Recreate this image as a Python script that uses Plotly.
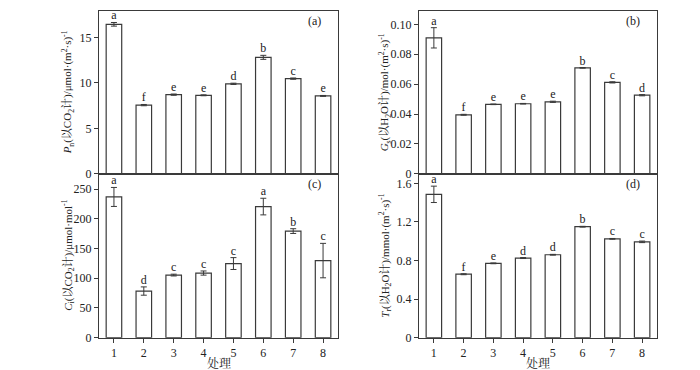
import plotly.graph_objects as go

treatments = [1, 2, 3, 4, 5, 6, 7, 8]

pn_vals = [16.43, 7.55, 8.70, 8.63, 9.89, 12.80, 10.46, 8.56]
pn_err = [0.2, 0.07, 0.07, 0.05, 0.07, 0.22, 0.07, 0.05]
pn_let = ["a", "f", "e", "e", "d", "b", "c", "e"]

gs_vals = [0.0910, 0.0395, 0.0465, 0.0469, 0.0482, 0.0709, 0.0612, 0.0526]
gs_err = [0.0068, 0.0003, 0.0002, 0.0002, 0.0004, 0.0002, 0.0004, 0.0004]
gs_let = ["a", "f", "e", "e", "e", "b", "c", "d"]

ci_vals = [237, 78.5, 105.4, 108.8, 124.8, 220.8, 179.5, 129.8]
ci_err = [16, 7, 1.5, 3.5, 10, 14, 4, 29]
ci_let = ["a", "d", "c", "c", "c", "a", "b", "c"]

tr_vals = [1.487, 0.658, 0.771, 0.826, 0.860, 1.151, 1.025, 0.994]
tr_err = [0.085, 0.005, 0.004, 0.005, 0.004, 0.004, 0.004, 0.008]
tr_let = ["a", "f", "e", "d", "d", "b", "c", "c"]

FONT = "Times New Roman, Liberation Serif, Noto Serif CJK SC, Noto Sans CJK SC, serif"
LINE = "#3a3a3a"

panels = [
    # values, err, letters, xaxis, yaxis, yrange, tickvals, ticktext, label, ytitle
    (pn_vals, pn_err, pn_let, "x", "y", [0, 17.9], [0, 5, 10, 15], ["0", "5", "10", "15"], "(a)",
     "<i>P</i><sub>n</sub>(以CO<sub>2</sub>计)/μmol·(m<sup>2</sup>·s)<sup>-1</sup>"),
    (gs_vals, gs_err, gs_let, "x2", "y2", [0, 0.109], [0, 0.02, 0.04, 0.06, 0.08, 0.10],
     ["0", "0.02", "0.04", "0.06", "0.08", "0.10"], "(b)",
     "<i>G</i><sub>s</sub>(以H<sub>2</sub>O计)/mol·(m<sup>2</sup>·s)<sup>-1</sup>"),
    (ci_vals, ci_err, ci_let, "x3", "y3", [0, 276], [0, 50, 100, 150, 200, 250],
     ["0", "50", "100", "150", "200", "250"], "(c)",
     "<i>C</i><sub>i</sub>(以CO<sub>2</sub>计)/μmol·mol<sup>-1</sup>"),
    (tr_vals, tr_err, tr_let, "x4", "y4", [0, 1.70], [0, 0.4, 0.8, 1.2, 1.6],
     ["0", "0.4", "0.8", "1.2", "1.6"], "(d)",
     "<i>T</i><sub>r</sub>(以H<sub>2</sub>O计)/mmol·(m<sup>2</sup>·s)<sup>-1</sup>"),
]

fig = go.Figure()

xdom_l = [91 / 700, 330 / 700]
xdom_r = [411 / 700, 649 / 700]
ydom_t = [1 - 169 / 370, 1 - 3 / 370]
ydom_b = [1 - 336 / 370, 1 - 169 / 370]

doms = {
    "x": (xdom_l, ydom_t), "x2": (xdom_r, ydom_t),
    "x3": (xdom_l, ydom_b), "x4": (xdom_r, ydom_b),
}

annotations = []
layout_axes = {}
for i, (vals, errs, lets, xa, ya, yr, tv, tt, lab, ytitle) in enumerate(panels):
    fig.add_trace(go.Bar(
        x=treatments, y=vals, xaxis=xa, yaxis=ya, width=0.52,
        marker=dict(color="white", line=dict(color=LINE, width=1.2)),
        error_y=dict(type="data", array=errs, visible=True, color=LINE, thickness=1, width=3),
        showlegend=False, hoverinfo="skip",
    ))
    fig.add_trace(go.Scatter(
        x=treatments, y=[v + e for v, e in zip(vals, errs)], xaxis=xa, yaxis=ya,
        mode="text", text=lets, textposition="top center",
        textfont=dict(family=FONT, size=12, color="#222"),
        showlegend=False, hoverinfo="skip", cliponaxis=False,
    ))
    xd, yd = doms[xa]
    bottom = xa in ("x3", "x4")
    xkey = "xaxis" if xa == "x" else "xaxis" + xa[1:]
    ykey = "yaxis" if ya == "y" else "yaxis" + ya[1:]
    layout_axes[xkey] = dict(
        domain=xd, anchor=ya, range=[0.5, 8.5], tickvals=treatments,
        ticktext=[str(t) for t in treatments] if bottom else None,
        showticklabels=bottom, ticks="outside" if bottom else "", ticklen=4,
        tickcolor=LINE, showline=True, linecolor=LINE, linewidth=1.2, mirror=True,
        showgrid=False, zeroline=False,
        tickfont=dict(family=FONT, size=12, color="#222"),
    )
    layout_axes[ykey] = dict(
        domain=yd, anchor=xa, range=yr, tickvals=tv, ticktext=tt,
        ticks="outside", ticklen=4, tickcolor=LINE, showline=True, linecolor=LINE,
        linewidth=1.2, mirror=True, showgrid=False, zeroline=False,
        tickfont=dict(family=FONT, size=12, color="#222"),
    )
    annotations.append(dict(
        text=lab, xref=xa + " domain" if xa != "x" else "x domain",
        yref=ya + " domain" if ya != "y" else "y domain",
        x=0.9, y=0.94, showarrow=False, xanchor="center", yanchor="middle",
        font=dict(family=FONT, size=12, color="#222"),
    ))
    ycen = (yd[0] + yd[1]) / 2
    xt = 60 / 700 if xa in ("x", "x3") else 377 / 700
    annotations.append(dict(
        text=ytitle, xref="paper", yref="paper", x=xt, y=ycen, textangle=-90,
        showarrow=False, xanchor="center", yanchor="middle",
        font=dict(family=FONT, size=11, color="#222"),
    ))

for xc in [(xdom_l[0] + xdom_l[1]) / 2, (xdom_r[0] + xdom_r[1]) / 2]:
    annotations.append(dict(
        text="处理", xref="paper", yref="paper", x=xc, y=1 - 362 / 370,
        showarrow=False, xanchor="center", yanchor="middle",
        font=dict(family=FONT, size=12, color="#222"),
    ))

fig.update_layout(
    width=700, height=370, margin=dict(l=0, r=0, t=0, b=0),
    plot_bgcolor="white", paper_bgcolor="white",
    annotations=annotations, bargap=0.5, **layout_axes,
)

fig.write_html("out.html")
